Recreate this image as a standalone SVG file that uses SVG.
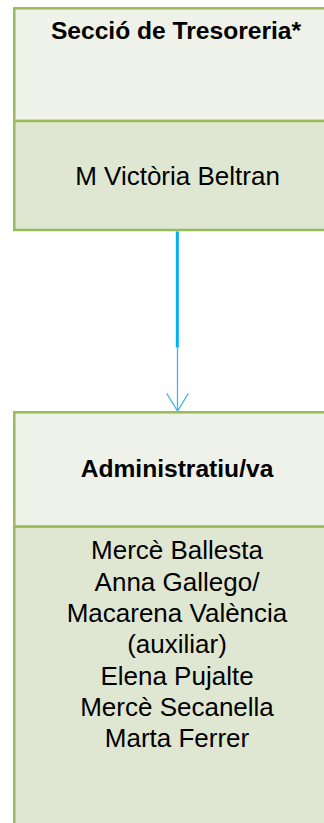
<svg xmlns="http://www.w3.org/2000/svg" width="324" height="823" viewBox="0 0 324 823">
<style>
.box{stroke:#9BBB59;stroke-width:2.5}
.hd{fill:#EFF2E8}
.bd{fill:#DFE7D2}
.t{font-family:"Liberation Sans",Arial,sans-serif;fill:#000;text-anchor:middle}
.b{font-weight:bold;font-size:24.6px}
.r{font-size:26px}
</style>
<rect width="324" height="823" fill="#fff"/>
<g id="node-tresoreria">
<rect class="box hd" x="14.3" y="8.3" width="330" height="112.7"/>
<rect class="box bd" x="14.3" y="121" width="330" height="109"/>
<text class="t b" x="176" y="39">Secció de Tresoreria*</text>
<text class="t r" x="177.5" y="185">M Victòria Beltran</text>
</g>
<g id="node-administratiu">
<rect class="box hd" x="14.3" y="412.3" width="330" height="114.4"/>
<rect class="box bd" x="14.3" y="526.7" width="330" height="320"/>
<text class="t b" x="177" y="477">Administratiu/va</text>
<text class="t r" x="177" y="559">Mercè Ballesta</text>
<text class="t r" x="177" y="590.5">Anna Gallego/</text>
<text class="t r" x="177" y="622">Macarena València</text>
<text class="t r" x="177" y="653">(auxiliar)</text>
<text class="t r" x="177" y="684.5">Elena Pujalte</text>
<text class="t r" x="177" y="716">Mercè Secanella</text>
<text class="t r" x="177" y="747">Marta Ferrer</text>
</g>
<g id="connectors" fill="none">
<line x1="177.3" y1="231.5" x2="177.3" y2="347.5" stroke="#00B0F0" stroke-width="3"/>
<line x1="177.5" y1="347.5" x2="177.5" y2="410.5" stroke="#3DB8EE" stroke-width="1.3"/>
<polyline points="166.7,393.3 177.6,411 188.3,393.3" stroke="#3DB8EE" stroke-width="1.3"/>
</g>
</svg>
